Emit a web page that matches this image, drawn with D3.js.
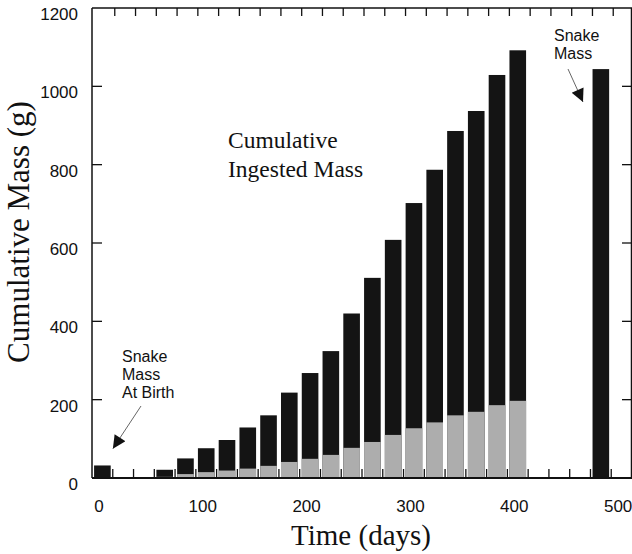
<!DOCTYPE html>
<html>
<head>
<meta charset="utf-8">
<script src="https://cdn.jsdelivr.net/npm/d3@7"></script>
<style>
  body { margin: 0; background: #fff; }
  svg { display: block; }
  .tick-label { font-family: "Liberation Sans", Arial, sans-serif; font-size: 17px; fill: #111; }
  .note { font-family: "Liberation Sans", Arial, sans-serif; font-size: 16px; fill: #111; }
  .serif { font-family: "Liberation Serif", "Times New Roman", serif; fill: #111; }
</style>
</head>
<body>
<div id="chart"></div>
<script>
// feeding days (start of each 20-day bin)
const days = [0, 60, 80, 100, 120, 140, 160, 180, 200, 220, 240, 260, 280, 300, 320, 340, 360, 380, 400];
// cumulative ingested mass (g) - top of black bars; day 0 = snake mass at birth
const totalMass = [32, 21, 50, 76, 97, 129, 160, 218, 268, 324, 420, 511, 608, 702, 787, 886, 937, 1029, 1092];
// grey lower part of each bar
const greyMass = [0, 3, 10, 15, 19, 24, 31, 41, 49, 59, 77, 92, 110, 127, 142, 160, 169, 186, 197];
// final snake mass
const snakeDay = 480;
const snakeMass = 1044;

const yTicks = [0, 200, 400, 600, 800, 1000, 1200];
const xTicks = [0, 100, 200, 300, 400, 500];
const binEdges = d3.range(10, 500, 20);

const width = 632, height = 554;
const plotLeft = 92, plotRight = 632, plotTop = 8, plotBottom = 478;

const svg = d3.select("#chart").append("svg")
  .attr("width", width)
  .attr("height", height);

const x = d3.scaleLinear().domain([-10, 510]).range([plotLeft, plotRight]);
const y = d3.scaleLinear().domain([0, 1200]).range([plotBottom, plotTop]);
const barW = x(16) - x(0);

// bars
const bars = svg.append("g");
const barData = days.map((d, i) => ({day: d, total: totalMass[i], grey: greyMass[i]}));
bars.selectAll("rect.black")
  .data(barData.concat([{day: snakeDay, total: snakeMass, grey: 0}]))
  .join("rect")
  .attr("class", "black")
  .attr("x", d => x(d.day) - barW / 2)
  .attr("width", barW)
  .attr("y", d => y(d.total))
  .attr("height", d => y(0) - y(d.total))
  .attr("fill", "#141414");
bars.selectAll("rect.grey")
  .data(barData.filter(d => d.grey > 0))
  .join("rect")
  .attr("class", "grey")
  .attr("x", d => x(d.day) - barW / 2)
  .attr("width", barW)
  .attr("y", d => y(d.grey))
  .attr("height", d => y(0) - y(d.grey))
  .attr("fill", "#adadad");

// frame
const frame = svg.append("g").attr("stroke", "#111").attr("fill", "none");
frame.append("line").attr("x1", plotLeft).attr("x2", plotLeft).attr("y1", plotTop).attr("y2", plotBottom).attr("stroke-width", 1.5);
frame.append("line").attr("x1", plotLeft).attr("x2", plotRight).attr("y1", plotBottom).attr("y2", plotBottom).attr("stroke-width", 1.8);
frame.append("line").attr("x1", plotLeft).attr("x2", plotRight).attr("y1", plotTop).attr("y2", plotTop).attr("stroke-width", 1.5);
frame.append("line").attr("x1", plotRight - 0.5).attr("x2", plotRight - 0.5).attr("y1", plotTop).attr("y2", plotBottom).attr("stroke-width", 1.5);

// bin edge ticks, bottom and top
frame.selectAll("line.bt").data(binEdges).join("line")
  .attr("class", "bt")
  .attr("x1", d => x(d)).attr("x2", d => x(d))
  .attr("y1", plotBottom).attr("y2", plotBottom - 9).attr("stroke-width", 1.3);
frame.selectAll("line.tt").data(binEdges).join("line")
  .attr("class", "tt")
  .attr("x1", d => x(d) + 2).attr("x2", d => x(d) + 2)
  .attr("y1", plotTop).attr("y2", plotTop + 8).attr("stroke-width", 1.3);

// y ticks left and right
frame.selectAll("line.yl").data(yTicks.slice(1, -1)).join("line")
  .attr("class", "yl")
  .attr("x1", plotLeft).attr("x2", plotLeft + 10)
  .attr("y1", d => y(d)).attr("y2", d => y(d)).attr("stroke-width", 1.3);
frame.selectAll("line.yr").data(yTicks.slice(1, -1)).join("line")
  .attr("class", "yr")
  .attr("x1", plotRight).attr("x2", plotRight - 10)
  .attr("y1", d => y(d)).attr("y2", d => y(d)).attr("stroke-width", 1.3);

// tick labels
svg.append("g").selectAll("text").data(yTicks).join("text")
  .attr("class", "tick-label")
  .attr("x", 78)
  .attr("y", d => y(d) + 12)
  .attr("text-anchor", "end")
  .text(d => d);
svg.append("g").selectAll("text").data(xTicks).join("text")
  .attr("class", "tick-label")
  .attr("x", d => x(d) - 3.5)
  .attr("y", 512)
  .attr("text-anchor", "middle")
  .text(d => d);

// axis titles
svg.append("text").attr("class", "serif")
  .attr("transform", "translate(29,232) rotate(-90)")
  .attr("text-anchor", "middle")
  .style("font-size", "31px")
  .text("Cumulative Mass (g)");
svg.append("text").attr("class", "serif")
  .attr("x", 361).attr("y", 545)
  .attr("text-anchor", "middle")
  .style("font-size", "29px")
  .text("Time (days)");

// inner title
const inner = svg.append("text").attr("class", "serif").style("font-size", "23.5px");
inner.append("tspan").attr("x", 228).attr("y", 148).text("Cumulative");
inner.append("tspan").attr("x", 228).attr("y", 177).text("Ingested Mass");

// annotations with arrows
svg.append("defs").append("marker")
  .attr("id", "head")
  .attr("viewBox", "0 0 10 10")
  .attr("refX", 10).attr("refY", 5)
  .attr("markerWidth", 16).attr("markerHeight", 13)
  .attr("markerUnits", "userSpaceOnUse")
  .attr("orient", "auto")
  .append("path").attr("d", "M0,0 L10,5 L0,10 Z").attr("fill", "#111");

function note(lines, tx, ty, from, to) {
  const t = svg.append("text").attr("class", "note");
  lines.forEach((s, i) => t.append("tspan").attr("x", tx).attr("y", ty + i * 18).text(s));
  svg.append("line")
    .attr("x1", from[0]).attr("y1", from[1])
    .attr("x2", to[0]).attr("y2", to[1])
    .attr("stroke", "#555").attr("stroke-width", 0.9)
    .attr("marker-end", "url(#head)");
}
note(["Snake", "Mass", "At Birth"], 122, 362, [141, 406], [x(0) + 10.5, y(75)]);
note(["Snake", "Mass"], 554, 41, [568, 69], [583, y(960)]);
</script>
</body>
</html>
